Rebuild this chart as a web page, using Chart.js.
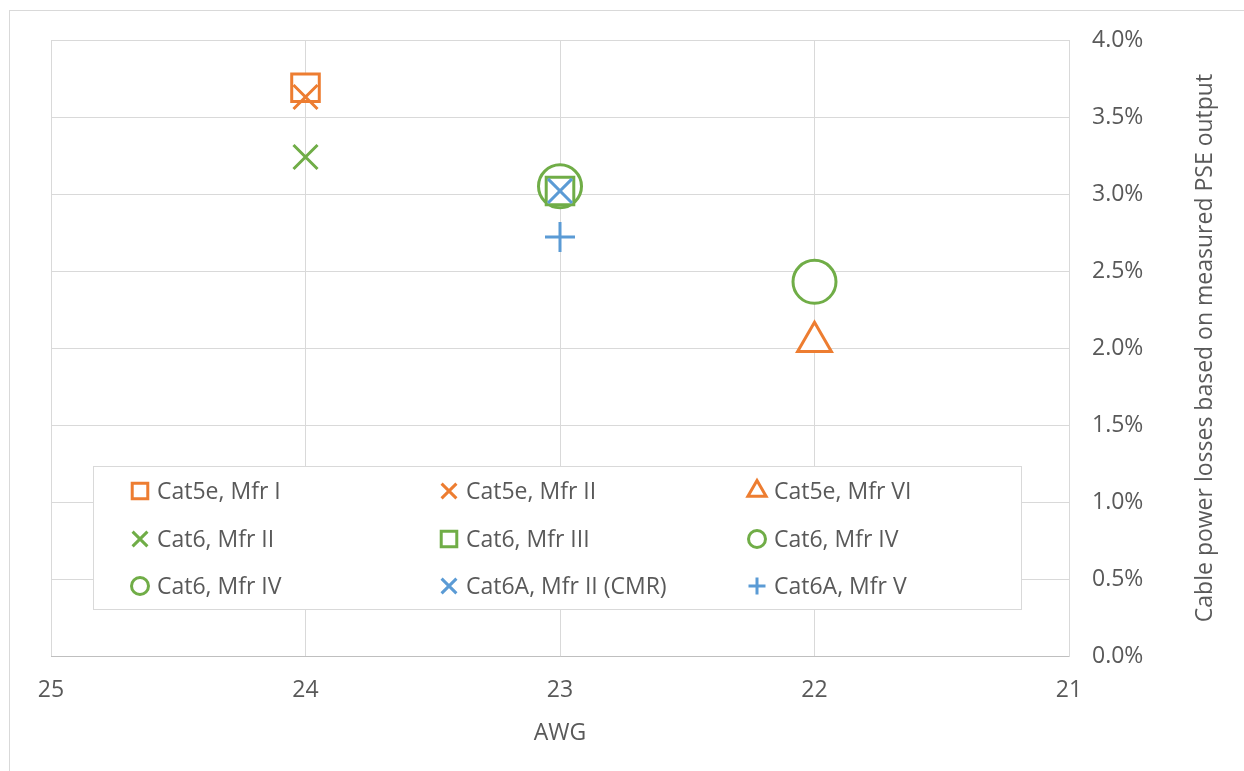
<!DOCTYPE html>
<html>
<head>
<meta charset="utf-8">
<script src="https://cdn.jsdelivr.net/npm/chart.js@4/dist/chart.umd.min.js"></script>
<style>
  html, body { margin: 0; padding: 0; background: #fff; }
</style>
</head>
<body>
<canvas id="myChart" width="1244" height="771"></canvas>
<script>
// data (y in %)
const seriesNames = ['Cat5e, Mfr I', 'Cat5e, Mfr II', 'Cat5e, Mfr VI', 'Cat6, Mfr II', 'Cat6, Mfr III', 'Cat6, Mfr IV', 'Cat6, Mfr IV', 'Cat6A, Mfr II (CMR)', 'Cat6A, Mfr V'];
const seriesAwg = [24, 24, 22, 24, 23, 23, 22, 23, 23];
const seriesLoss = [3.69, 3.63, 2.04, 3.24, 3.02, 3.05, 2.43, 3.02, 2.72];
const xTicks = [25, 24, 23, 22, 21];
const yTicks = [0, 0.5, 1, 1.5, 2, 2.5, 3, 3.5, 4];
const xTitle = 'AWG';
const yTitle = 'Cable power losses based on measured PSE output';

// styles
const seriesColors = ['#ED7D31', '#ED7D31', '#ED7D31', '#70AD47', '#70AD47', '#70AD47', '#70AD47', '#5B9BD5', '#5B9BD5'];
const seriesMarkers = ['rect', 'crossRot', 'triangle', 'crossRot', 'rect', 'circle', 'circle', 'crossRot', 'cross'];
const markerRadius = { rect: 19.5, crossRot: 17, triangle: 19.5, circle: 21.5, cross: 15 };
const legendRadius = { rect: 11, crossRot: 10.5, triangle: 10.5, circle: 8.5, cross: 8.5 };
const markerLayer = { circle: 3, rect: 2, triangle: 2, crossRot: 1, cross: 1 };

const FONT = '"Open Sans", "Noto Sans", sans-serif';
const TEXT = '#595959';
const GRID = '#d9d9d9';

Chart.defaults.font.family = FONT;
Chart.defaults.font.size = 23;
Chart.defaults.color = TEXT;

const decor = {
  id: 'decor',
  beforeDraw(chart) {
    const ctx = chart.ctx;
    ctx.save();
    ctx.fillStyle = '#fff';
    ctx.fillRect(0, 0, chart.width, chart.height);
    ctx.strokeStyle = GRID;
    ctx.lineWidth = 1;
    ctx.strokeRect(9.5, 10.5, chart.width + 20, chart.height + 20);
    ctx.restore();
  },
  afterDraw(chart) {
    const ctx = chart.ctx;
    const a = chart.chartArea;
    ctx.save();

    // y title, reads bottom to top
    ctx.font = '23px ' + FONT;
    ctx.fillStyle = TEXT;
    ctx.textAlign = 'center';
    ctx.textBaseline = 'middle';
    ctx.translate(a.right + 136, (a.top + a.bottom) / 2);
    ctx.rotate(-Math.PI / 2);
    ctx.fillText(yTitle, 0, 0);
    ctx.restore();

    // legend inside the plot
    ctx.save();
    const bx = a.left + 42, by = a.top + 426, bw = 928, bh = 143;
    ctx.fillStyle = '#fff';
    ctx.fillRect(bx, by, bw, bh);
    ctx.strokeStyle = GRID;
    ctx.lineWidth = 1;
    ctx.strokeRect(bx + 0.5, by + 0.5, bw, bh);
    const colX = [89, 398, 706];
    const rowY = [451, 499, 546];
    ctx.font = '23px ' + FONT;
    ctx.textAlign = 'left';
    ctx.textBaseline = 'middle';
    seriesNames.forEach((name, i) => {
      const x = a.left + colX[i % 3];
      const y = a.top + rowY[Math.floor(i / 3)];
      ctx.strokeStyle = seriesColors[i];
      ctx.fillStyle = '#fff';
      ctx.lineWidth = 3;
      Chart.helpers.drawPoint(ctx, {
        pointStyle: seriesMarkers[i],
        radius: legendRadius[seriesMarkers[i]],
        rotation: 0,
        borderWidth: 3
      }, x, y);
      ctx.fillStyle = TEXT;
      ctx.fillText(name, x + 17, y + 1);
    });
    ctx.restore();
  }
};

const myChart = new Chart('myChart', {
  type: 'scatter',
  data: {
    datasets: seriesNames.map((name, i) => ({
      label: name,
      data: [{ x: seriesAwg[i], y: seriesLoss[i] }],
      pointStyle: seriesMarkers[i],
      pointRadius: markerRadius[seriesMarkers[i]],
      borderColor: seriesColors[i],
      backgroundColor: '#fff',
      borderWidth: 3,
      order: markerLayer[seriesMarkers[i]]
    }))
  },
  options: {
    responsive: false,
    animation: false,
    events: [],
    layout: { padding: { left: 51, top: 40, right: 0, bottom: 0 } },
    plugins: {
      legend: { display: false },
      tooltip: { enabled: false }
    },
    scales: {
      x: {
        type: 'linear',
        reverse: true,
        min: 21,
        max: 25,
        afterBuildTicks: s => { s.ticks = xTicks.map(v => ({ value: v })); },
        afterFit: s => { s.height = 115; },
        grid: { color: GRID, drawTicks: false },
        border: { color: '#bfbfbf' },
        ticks: { padding: 21, maxRotation: 0, autoSkip: false },
        title: { display: true, text: xTitle, padding: { top: 0, bottom: 24 } }
      },
      y: {
        position: 'right',
        min: 0,
        max: 4,
        afterBuildTicks: s => { s.ticks = yTicks.map(v => ({ value: v })); },
        afterFit: s => { s.width = 175; },
        grid: { color: GRID, drawTicks: false },
        border: { color: GRID },
        ticks: { padding: 23, callback: v => v.toFixed(1) + '%' }
      }
    }
  },
  plugins: [decor]
});
</script>
</body>
</html>
